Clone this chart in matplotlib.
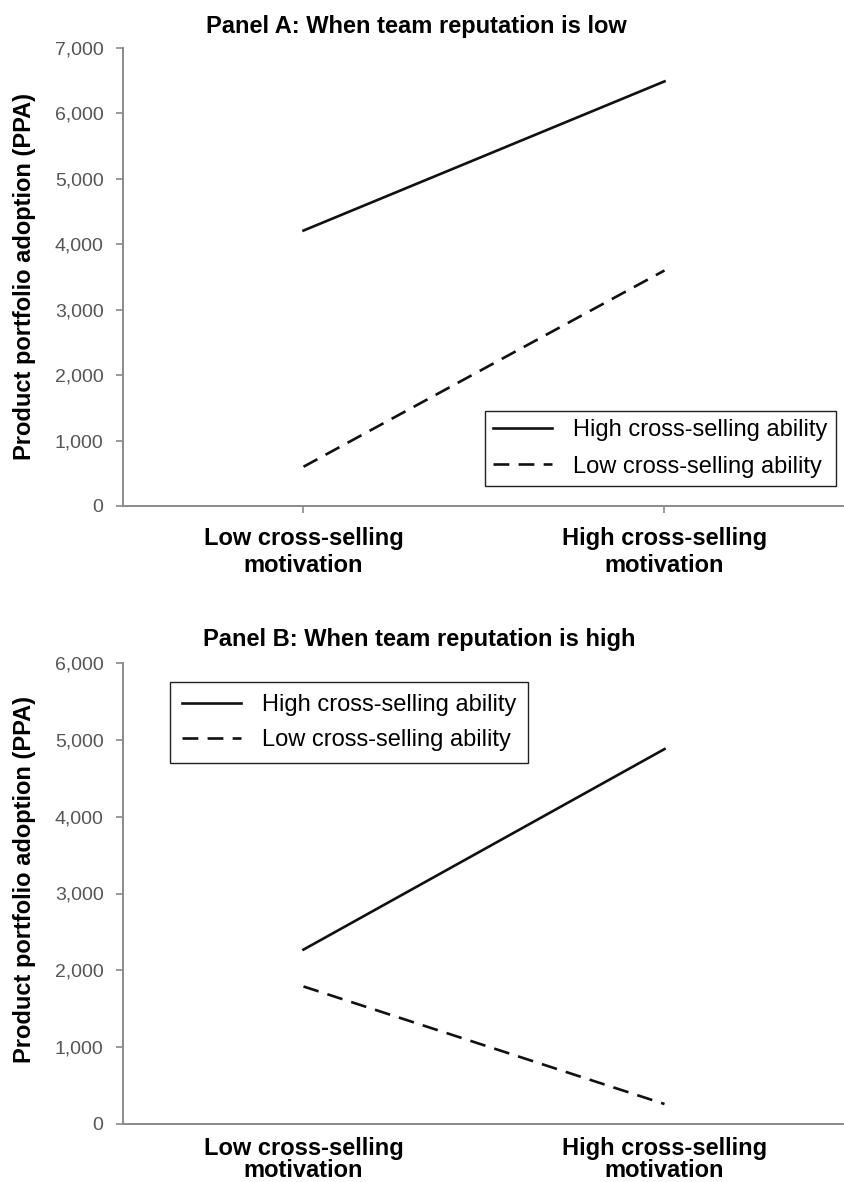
import numpy as np
import matplotlib.pyplot as plt
from matplotlib.ticker import FuncFormatter

plt.rcParams['font.family'] = ['Liberation Sans', 'DejaVu Sans']

# data
categories = ['Low cross-selling\nmotivation', 'High cross-selling\nmotivation']
series_names = ['High cross-selling ability', 'Low cross-selling ability']

panel_a_high = [4210, 6490]
panel_a_low = [600, 3600]
panel_b_high = [2270, 4880]
panel_b_low = [1790, 260]

panel_a_title = 'Panel A: When team reputation is low'
panel_b_title = 'Panel B: When team reputation is high'
ylabel = 'Product portfolio adoption (PPA)'

W, H = 845, 1182
fig = plt.figure(figsize=(W / 100, H / 100), dpi=100)

def px_axes(left, top, right, bottom):
    return fig.add_axes([left / W, 1 - bottom / H, (right - left) / W, (bottom - top) / H])

ax_a = px_axes(123, 48, 845, 506)
ax_b = px_axes(123, 663, 845, 1124)

grey = '#8a8a8a'
comma = FuncFormatter(lambda v, p: f'{int(v):,}')

def style(ax, ymax, xtick_len, xpad, lsp):
    x = np.arange(len(categories))
    ax.set_xlim(-0.5, 1.5)
    ax.set_ylim(0, ymax)
    ax.set_yticks(np.arange(0, ymax + 1, 1000))
    ax.yaxis.set_major_formatter(comma)
    ax.set_xticks(x)
    ax.set_xticklabels(categories, fontsize=17, fontweight='bold', linespacing=lsp)
    for s in ['top', 'right']:
        ax.spines[s].set_visible(False)
    for s in ['left', 'bottom']:
        ax.spines[s].set_color(grey)
        ax.spines[s].set_linewidth(1.4)
    ax.tick_params(axis='y', labelsize=14, labelcolor='#555555', color=grey,
                   length=5, width=1.2, pad=9)
    ax.tick_params(axis='x', color=grey, length=xtick_len, width=1.2, pad=xpad)
    ax.set_ylabel(ylabel, fontsize=17, fontweight='bold')

def draw(ax, high, low):
    x = np.arange(len(categories))
    ax.plot(x, high, color='#111111', lw=1.9, label=series_names[0])
    ax.plot(x, low, color='#111111', lw=1.9, dashes=(6, 3.5), label=series_names[1])

draw(ax_a, panel_a_high, panel_a_low)
draw(ax_b, panel_b_high, panel_b_low)
style(ax_a, 7000, 5, 10, 1.25)
style(ax_b, 6000, 0, 9, 0.95)

ax_a.yaxis.set_label_coords(-0.121, 0.5)
ax_b.yaxis.set_label_coords(-0.121, 0.53)

ax_a.text(0.407, 1.048, panel_a_title, transform=ax_a.transAxes,
          ha='center', va='center', fontsize=17, fontweight='bold')
ax_b.text(0.41, 1.052, panel_b_title, transform=ax_b.transAxes,
          ha='center', va='center', fontsize=17, fontweight='bold')

leg_kw = dict(fontsize=17, frameon=True, fancybox=False, framealpha=1,
              edgecolor='#222222', borderaxespad=0, handlelength=2.5,
              handletextpad=0.9)
la = ax_a.legend(loc='lower right', bbox_to_anchor=(0.9875, 0.0437),
                 borderpad=0.35, labelspacing=0.62, **leg_kw)
lb = ax_b.legend(loc='upper left', bbox_to_anchor=(0.065, 0.9588),
                 borderpad=0.5, labelspacing=0.55, **leg_kw)
for lg in (la, lb):
    lg.get_frame().set_linewidth(1.0)

fig.savefig('out.png', dpi=100)
